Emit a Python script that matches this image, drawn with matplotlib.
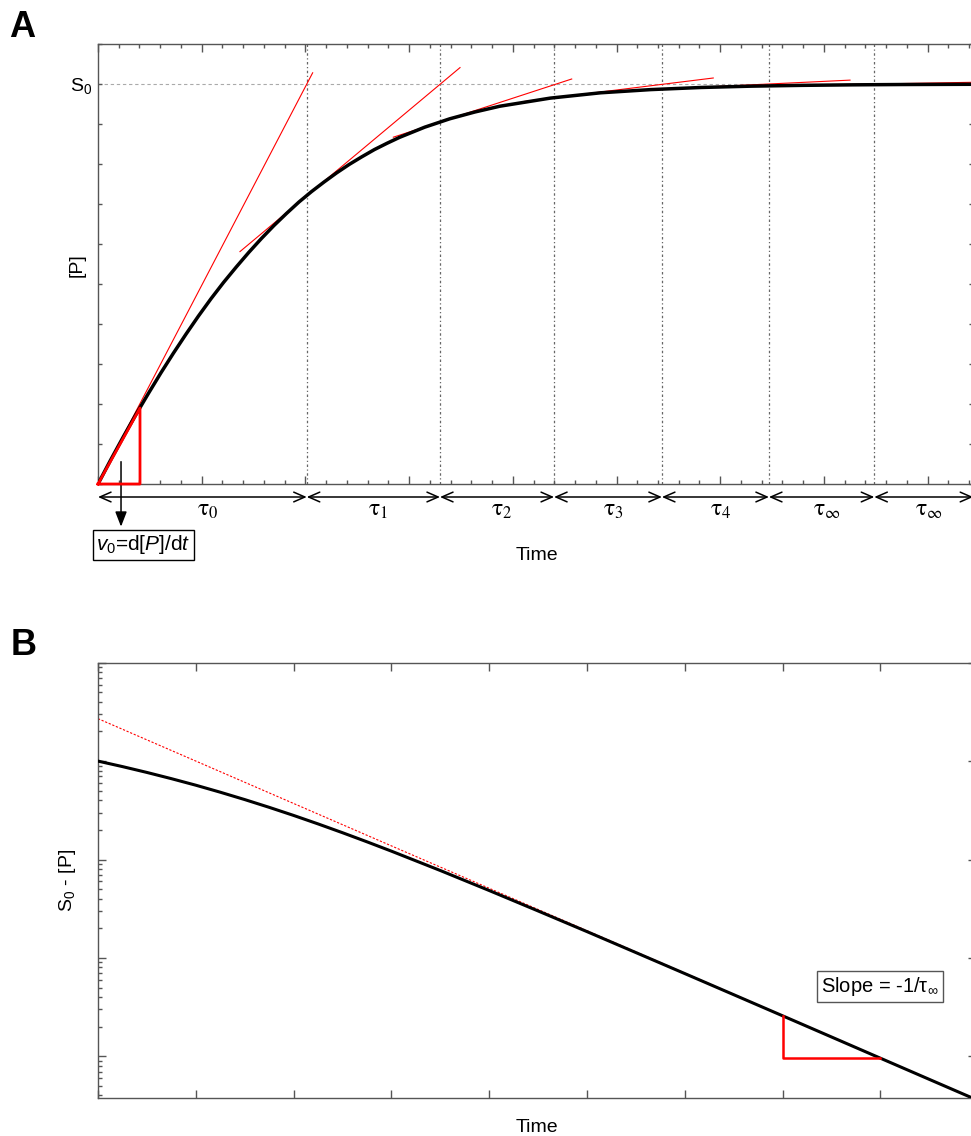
import numpy as np
import matplotlib.pyplot as plt
from matplotlib.ticker import MultipleLocator, FixedLocator, FixedFormatter, LogLocator, NullFormatter

plt.rcParams['font.family'] = ['Liberation Sans', 'DejaVu Sans']
plt.rcParams['mathtext.fontset'] = 'custom'
plt.rcParams['mathtext.rm'] = 'Liberation Sans'
plt.rcParams['mathtext.it'] = 'Liberation Sans:italic'
plt.rcParams['mathtext.bf'] = 'Liberation Sans:bold'

# ---- panel A: progress curve [P](t) ----
t_a = [0, 0.121, 0.242, 0.363, 0.485, 0.606, 0.727, 0.848, 0.969, 1.090, 1.211,
       1.333, 1.454, 1.575, 1.696, 1.817, 1.938, 2.059, 2.180, 2.302, 2.423,
       2.544, 2.665, 2.786, 2.907, 3.150, 3.392, 3.634, 3.876, 4.361, 4.846,
       5.330, 5.815, 6.299, 6.784, 7.268, 7.753, 8.44]
p_a = [0, 0.0596, 0.117, 0.1725, 0.226, 0.2776, 0.327, 0.3744, 0.420, 0.4633, 0.504,
       0.5424, 0.579, 0.6135, 0.646, 0.6762, 0.705, 0.731, 0.755, 0.778, 0.799,
       0.818, 0.836, 0.8517, 0.8665, 0.892, 0.913, 0.930, 0.9445, 0.9647, 0.978,
       0.986, 0.9913, 0.9946, 0.9966, 0.9979, 0.9987, 0.9993]

# interval boundaries (successive local time constants)
bounds = [0, 2.013, 3.298, 4.398, 5.438, 6.470, 7.486, 8.44]
tau_labels = [r'$\mathrm{\tau}_0$', r'$\mathrm{\tau}_1$', r'$\mathrm{\tau}_2$',
              r'$\mathrm{\tau}_3$', r'$\mathrm{\tau}_4$', r'$\mathrm{\tau}_\infty$',
              r'$\mathrm{\tau}_\infty$']

# red tangent segments
tan_t0 = [0.0, 1.369, 2.848, 4.10, 5.00, 6.00]
tan_p0 = [0.0, 0.581, 0.867, 0.956, 0.9818, 0.9931]
tan_t1 = [2.070, 3.491, 4.568, 5.933, 7.252, 8.44]
tan_p1 = [1.028, 1.041, 1.0125, 1.015, 1.0097, 1.0043]

# initial-rate triangle
tri_a_t = [0, 0.405, 0.405, 0]
tri_a_p = [0, 0.190, 0, 0]

# ---- panel B: S0 - [P] on log scale ----
t_b = [0, 0.25, 0.5, 0.75, 1.0, 1.25, 1.5, 1.75, 2.0, 2.25, 2.5, 2.75, 3.0, 3.5,
       4.0, 4.5, 5.0, 5.5, 6.0, 6.5, 7.0, 7.5, 8.0, 8.5, 8.93]
s_b = [1.0, 0.8794, 0.767, 0.6632, 0.569, 0.483, 0.4065, 0.3391, 0.2805, 0.230,
       0.1872, 0.1513, 0.1216, 0.0773, 0.0484, 0.0300, 0.0185, 0.01133, 0.00693,
       0.00423, 0.00258, 0.001572, 0.000957, 0.000583, 0.000381]
asym_t = [0, 8.93]
asym_s = [2.70, 0.000383]
tri_b_t = [7.0, 7.0, 8.0]
tri_b_s = [0.00258, 0.000957, 0.000957]

spine_c = '#555555'

fig = plt.figure(figsize=(9.71, 11.36), dpi=100)

# ================= A =================
axA = fig.add_axes([98 / 971, 1 - 484 / 1136, 8.44 * 103.7 / 971, 440 / 1136])
axA.set_xlim(0, 8.44)
axA.set_ylim(0, 1.1)

for b in bounds[1:-1]:
    axA.axvline(b, color='#666666', lw=0.9, ls=(0, (2, 2, 1, 2)), zorder=1)
axA.axhline(1.0, color='#aaaaaa', lw=0.8, ls=(0, (3, 2.5)), zorder=1)

for i in range(len(tan_t0)):
    axA.plot([tan_t0[i], tan_t1[i]], [tan_p0[i], tan_p1[i]], color='red', lw=0.8, zorder=3)
axA.plot(t_a, p_a, color='black', lw=2.5, zorder=4)
axA.plot(tri_a_t, tri_a_p, color='red', lw=2, zorder=5, clip_on=False)

arrow_y = -0.0325
for a, b in zip(bounds[:-1], bounds[1:]):
    axA.annotate('', xy=(b, arrow_y), xytext=(a, arrow_y),
                 arrowprops=dict(arrowstyle='<->,head_length=0.8,head_width=0.35',
                                 lw=1.1, color='black', shrinkA=0, shrinkB=0,
                                 mutation_scale=10),
                 annotation_clip=False)
for i, lab in enumerate(tau_labels):
    mid = (bounds[i] + bounds[i + 1]) / 2
    axA.text(mid + 0.05, -0.066, lab, ha='center', va='center', fontsize=17,
             math_fontfamily='stix', clip_on=False)

axA.annotate('', xy=(0.222, -0.1067), xytext=(0.222, 0.0558),
             arrowprops=dict(arrowstyle='-|>,head_length=0.9,head_width=0.35',
                             lw=1.1, color='black', shrinkA=0, shrinkB=0,
                             mutation_scale=10),
             annotation_clip=False)
axA.text(0.439, -0.1525, r'$v_0$=d[$P$]/d$t$', ha='center', va='center', fontsize=15,
         bbox=dict(boxstyle='square,pad=0.15', fc='white', ec='black', lw=1),
         clip_on=False)

axA.xaxis.set_major_locator(MultipleLocator(1))
axA.xaxis.set_minor_locator(MultipleLocator(0.2))
axA.yaxis.set_major_locator(FixedLocator(np.arange(0, 1.101, 0.1)))
ylabs = [''] * 12
ylabs[10] = r'S$_0$'
axA.yaxis.set_major_formatter(FixedFormatter(ylabs))
axA.tick_params(which='both', direction='in', top=True, right=True,
                color=spine_c, width=1, labelbottom=False)
axA.tick_params(axis='x', which='major', length=5.5)
axA.tick_params(axis='x', which='minor', length=3)
axA.tick_params(axis='y', which='major', length=3.2, labelsize=14, pad=4)
for s in axA.spines.values():
    s.set_color(spine_c)
    s.set_linewidth(1)

fig.text(537 / 971, 1 - 555 / 1136, 'Time', ha='center', va='center', fontsize=14)
fig.text(77 / 971, 1 - 265 / 1136, '[P]', ha='center', va='center', fontsize=14, rotation=90)
fig.text(9 / 971, 1 - 37 / 1136, 'A', fontsize=26, fontweight='bold', va='baseline', ha='left')

# ================= B =================
axB = fig.add_axes([98 / 971, 1 - 1098 / 1136, 8.98 * 97.8 / 971, (1098 - 662.7) / 1136])
axB.set_yscale('log')
axB.set_xlim(0, 8.98)
axB.set_ylim(3.77e-4, 10)

axB.plot(asym_t, asym_s, color='red', lw=0.8, ls=(0, (2, 1.5)), zorder=2)
axB.plot(t_b, s_b, color='black', lw=2.2, zorder=3)
axB.plot(tri_b_t, tri_b_s, color='red', lw=1.8, zorder=4)
axB.text(7.997, 0.00511, r'Slope = -1/$\mathrm{\tau}_\infty$', ha='center', va='center',
         fontsize=14.5, bbox=dict(boxstyle='square,pad=0.2', fc='white', ec='#555555', lw=1))

axB.xaxis.set_major_locator(MultipleLocator(1))
axB.yaxis.set_major_locator(LogLocator(base=10, numticks=20))
axB.yaxis.set_minor_locator(LogLocator(base=10, subs=np.arange(2, 10), numticks=20))
axB.xaxis.set_major_formatter(NullFormatter())
axB.yaxis.set_major_formatter(NullFormatter())
axB.yaxis.set_minor_formatter(NullFormatter())
axB.tick_params(which='both', direction='in', top=True, right=True, color=spine_c, width=1)
axB.tick_params(which='major', length=6)
axB.tick_params(which='minor', length=3)
for s in axB.spines.values():
    s.set_color(spine_c)
    s.set_linewidth(1)

fig.text(537 / 971, 1 - 1127 / 1136, 'Time', ha='center', va='center', fontsize=14)
fig.text(67 / 971, 1 - 880 / 1136, r'S$_0$ - [P]', ha='center', va='center', fontsize=14,
         rotation=90)
fig.text(11 / 971, 1 - 655 / 1136, 'B', fontsize=26, fontweight='bold', va='baseline', ha='left')

fig.savefig('out.png', dpi=100)
